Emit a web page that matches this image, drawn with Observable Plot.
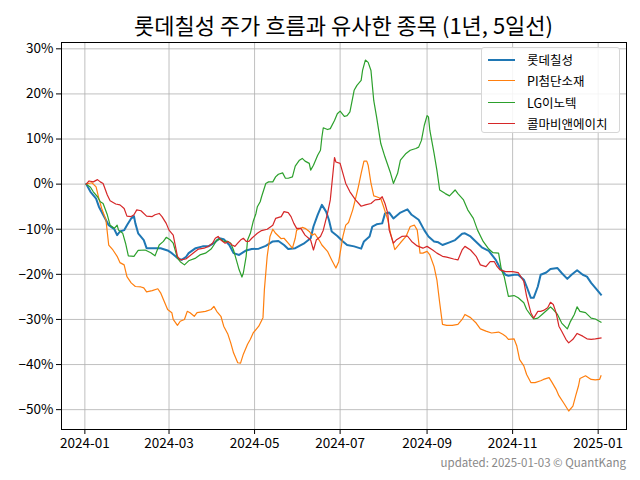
<!DOCTYPE html>
<html><head><meta charset="utf-8">
<script src="https://cdn.jsdelivr.net/npm/d3@7"></script>
<script src="https://cdn.jsdelivr.net/npm/@observablehq/plot@0.6"></script>
<style>
body{margin:0;background:#fff;font-family:"Noto Sans CJK KR","Noto Sans",sans-serif;}
#wrap{position:relative;width:640px;height:480px;overflow:hidden;background:#fff;}
#title{position:absolute;left:41px;top:4px;width:605px;height:40px;line-height:40px;text-align:center;font-size:22px;color:#000;white-space:nowrap;z-index:2;}
#chart{position:absolute;left:0;top:30px;z-index:1;}
#legend{position:absolute;left:481px;top:47px;width:139px;height:86px;box-sizing:border-box;border:1px solid #d6d6d6;border-radius:3px;background:rgba(255,255,255,0.85);z-index:3;}
.item{position:absolute;left:0;height:20px;width:100%;}
.sw{position:absolute;left:6px;top:9px;width:27px;}
.lab{position:absolute;left:45px;top:0;line-height:20px;font-size:12.5px;color:#000;white-space:nowrap;}
#caption{position:absolute;right:14px;top:454px;font-size:11.5px;color:#888;white-space:nowrap;z-index:2;}
</style></head>
<body>
<div id="wrap">
  <div id="title"></div>
  <div id="chart"></div>
  <div id="legend"></div>
  <div id="caption"></div>
</div>
<script>
const titleText = "롯데칠성 주가 흐름과 유사한 종목 (1년, 5일선)";
const captionText = "updated: 2025-01-03 © QuantKang";
const seriesNames = ["롯데칠성", "PI첨단소재", "LG이노텍", "콜마비앤에이치"];
const yTickValues = [-50, -40, -30, -20, -10, 0, 10, 20, 30];
const xTickLabels = ["2024-01", "2024-03", "2024-05", "2024-07", "2024-09", "2024-11", "2025-01"];

// 롯데칠성 (% change, 5-day MA)
const lotte = [
["2024-01-02",0],["2024-01-05",-1.7],["2024-01-09",-3.2],["2024-01-11",-5.0],["2024-01-14",-6.8],
["2024-01-18",-9.1],["2024-01-22",-10.0],["2024-01-24",-11.3],["2024-01-26",-10.5],["2024-01-29",-10.2],
["2024-01-31",-9.1],["2024-02-03",-7.6],["2024-02-05",-7.1],["2024-02-06",-8.7],["2024-02-08",-10.9],
["2024-02-12",-12.4],["2024-02-14",-14.2],["2024-02-17",-14.2],["2024-02-24",-14.2],["2024-02-29",-14.7],
["2024-03-03",-15.3],["2024-03-07",-16.4],["2024-03-10",-16.8],["2024-03-13",-16.2],["2024-03-15",-15.3],
["2024-03-20",-14.2],["2024-03-25",-13.8],["2024-03-29",-13.8],["2024-04-02",-13.1],["2024-04-06",-12.0],
["2024-04-09",-12.2],["2024-04-13",-13.5],["2024-04-16",-15.3],["2024-04-20",-15.7],["2024-04-25",-14.7],
["2024-04-29",-14.4],["2024-05-04",-14.3],["2024-05-09",-13.7],["2024-05-14",-12.7],["2024-05-18",-12.6],
["2024-05-22",-13.5],["2024-05-25",-14.4],["2024-05-30",-14.2],["2024-06-05",-13.2],["2024-06-10",-12.0],
["2024-06-12",-9.4],["2024-06-15",-6.8],["2024-06-18",-4.6],["2024-06-21",-6.1],["2024-06-23",-7.9],
["2024-06-25",-10.5],["2024-06-29",-11.5],["2024-07-03",-12.7],["2024-07-06",-13.5],["2024-07-11",-13.8],
["2024-07-16",-14.3],["2024-07-18",-12.7],["2024-07-22",-11.6],["2024-07-24",-9.4],["2024-07-27",-8.9],
["2024-07-31",-8.7],["2024-08-02",-6.5],["2024-08-05",-6.3],["2024-08-08",-7.6],["2024-08-13",-6.3],
["2024-08-18",-5.6],["2024-08-21",-6.8],["2024-08-26",-7.9],["2024-08-30",-10.2],["2024-09-02",-11.6],
["2024-09-06",-12.7],["2024-09-09",-12.9],["2024-09-12",-13.5],["2024-09-17",-12.9],["2024-09-21",-12.4],
["2024-09-26",-11.0],["2024-09-28",-10.9],["2024-10-02",-11.6],["2024-10-07",-13.1],["2024-10-10",-14.0],
["2024-10-15",-14.8],["2024-10-20",-16.8],["2024-10-23",-18.6],["2024-10-27",-20.1],["2024-10-29",-20.3],
["2024-11-02",-20.1],["2024-11-05",-20.1],["2024-11-09",-21.2],["2024-11-11",-22.7],["2024-11-14",-25.2],
["2024-11-16",-25.2],["2024-11-19",-22.7],["2024-11-21",-20.1],["2024-11-25",-19.6],["2024-11-28",-18.8],
["2024-12-03",-18.6],["2024-12-06",-19.7],["2024-12-10",-21.0],["2024-12-13",-20.1],["2024-12-17",-19.1],
["2024-12-21",-20.1],["2024-12-24",-20.5],["2024-12-27",-21.9],["2024-12-30",-23.0],["2025-01-03",-24.5]
];

// PI첨단소재
const piAdvanced = [
["2024-01-02",0],["2024-01-06",0.3],["2024-01-09",-0.6],["2024-01-11",-3.2],["2024-01-13",-5.4],
["2024-01-16",-7.9],["2024-01-18",-13.5],["2024-01-21",-14.6],["2024-01-24",-16.0],["2024-01-26",-17.4],
["2024-01-29",-17.9],["2024-01-31",-20.5],["2024-02-03",-21.9],["2024-02-06",-22.7],["2024-02-10",-22.8],
["2024-02-12",-23.0],["2024-02-14",-23.9],["2024-02-18",-23.6],["2024-02-22",-23.2],["2024-02-24",-24.1],
["2024-02-26",-25.6],["2024-02-29",-27.8],["2024-03-03",-28.5],["2024-03-04",-30.0],["2024-03-07",-31.3],
["2024-03-09",-30.4],["2024-03-12",-30.0],["2024-03-14",-28.2],["2024-03-16",-28.5],["2024-03-19",-29.3],
["2024-03-21",-28.5],["2024-03-27",-28.2],["2024-03-31",-27.8],["2024-04-02",-27.1],["2024-04-04",-28.2],
["2024-04-07",-29.3],["2024-04-09",-31.5],["2024-04-12",-33.3],["2024-04-14",-35.2],["2024-04-16",-37.4],
["2024-04-19",-39.6],["2024-04-21",-39.7],["2024-04-23",-37.7],["2024-04-26",-35.5],["2024-04-28",-34.4],
["2024-04-30",-33.0],["2024-05-04",-31.5],["2024-05-07",-29.6],["2024-05-08",-23.4],["2024-05-10",-16.0],
["2024-05-12",-11.6],["2024-05-14",-10.0],["2024-05-16",-10.9],["2024-05-20",-12.1],["2024-05-22",-12.0],
["2024-05-25",-13.1],["2024-05-28",-14.2],["2024-05-30",-12.0],["2024-05-31",-10.2],["2024-06-04",-9.6],
["2024-06-06",-9.8],["2024-06-09",-10.5],["2024-06-11",-11.3],["2024-06-13",-11.0],["2024-06-16",-12.4],
["2024-06-18",-13.5],["2024-06-22",-14.9],["2024-06-25",-16.8],["2024-06-28",-18.6],["2024-06-30",-17.2],
["2024-07-01",-15.3],["2024-07-03",-11.6],["2024-07-05",-9.1],["2024-07-07",-8.5],["2024-07-10",-5.7],
["2024-07-12",-3.2],["2024-07-14",-0.6],["2024-07-16",2.4],["2024-07-18",5.1],["2024-07-20",5.1],
["2024-07-21",4.2],["2024-07-23",0.2],["2024-07-25",-2.6],["2024-07-27",-2.8],["2024-07-30",-3.2],
["2024-08-01",-5.0],["2024-08-04",-7.9],["2024-08-06",-10.9],["2024-08-09",-14.5],["2024-08-13",-13.0],
["2024-08-17",-11.6],["2024-08-20",-9.4],["2024-08-23",-9.1],["2024-08-25",-10.2],["2024-08-27",-15.3],
["2024-08-29",-15.3],["2024-09-01",-14.9],["2024-09-03",-15.7],["2024-09-06",-18.3],["2024-09-08",-21.2],
["2024-09-10",-26.3],["2024-09-12",-31.1],["2024-09-15",-31.3],["2024-09-19",-31.3],["2024-09-23",-31.1],
["2024-09-26",-30.0],["2024-09-28",-28.9],["2024-10-02",-29.6],["2024-10-06",-30.8],["2024-10-09",-32.1],
["2024-10-13",-32.6],["2024-10-17",-33.0],["2024-10-22",-32.8],["2024-10-25",-33.3],["2024-10-27",-33.7],
["2024-10-29",-34.4],["2024-11-02",-34.3],["2024-11-04",-35.9],["2024-11-06",-38.9],["2024-11-09",-40.3],
["2024-11-11",-42.2],["2024-11-14",-44.0],["2024-11-17",-44.0],["2024-11-21",-43.6],["2024-11-23",-43.3],
["2024-11-27",-42.9],["2024-11-29",-43.9],["2024-12-02",-45.5],["2024-12-04",-46.9],["2024-12-08",-48.8],
["2024-12-11",-50.3],["2024-12-14",-49.2],["2024-12-16",-46.9],["2024-12-18",-44.7],["2024-12-19",-43.1],
["2024-12-23",-42.5],["2024-12-27",-43.3],["2024-12-30",-43.4],["2025-01-02",-43.3],["2025-01-03",-42.5]
];

// LG이노텍
const lgInnotek = [
["2024-01-02",0],["2024-01-05",-0.7],["2024-01-07",-1.7],["2024-01-10",-2.8],["2024-01-12",-3.9],
["2024-01-14",-4.3],["2024-01-17",-6.8],["2024-01-19",-9.1],["2024-01-22",-9.8],["2024-01-24",-9.1],
["2024-01-25",-10.2],["2024-01-28",-10.9],["2024-01-30",-13.1],["2024-02-01",-15.9],["2024-02-05",-16.0],
["2024-02-08",-14.7],["2024-02-13",-14.6],["2024-02-17",-15.2],["2024-02-20",-15.9],["2024-02-23",-13.5],
["2024-02-26",-12.7],["2024-02-28",-11.8],["2024-03-02",-12.4],["2024-03-04",-13.1],["2024-03-07",-16.4],
["2024-03-09",-17.2],["2024-03-12",-17.9],["2024-03-15",-17.0],["2024-03-20",-16.4],["2024-03-23",-15.7],
["2024-03-27",-15.3],["2024-03-31",-14.4],["2024-04-02",-13.5],["2024-04-04",-12.4],["2024-04-07",-12.2],
["2024-04-09",-12.7],["2024-04-12",-12.7],["2024-04-14",-13.1],["2024-04-16",-14.6],["2024-04-18",-16.8],
["2024-04-20",-19.0],["2024-04-22",-20.6],["2024-04-23",-19.7],["2024-04-25",-16.0],["2024-04-26",-12.4],
["2024-04-28",-10.9],["2024-04-30",-8.3],["2024-05-02",-6.5],["2024-05-03",-5.0],["2024-05-05",-3.9],
["2024-05-06",-2.8],["2024-05-09",0.15],["2024-05-11",0.5],["2024-05-14",0.5],["2024-05-16",1.6],
["2024-05-18",2.2],["2024-05-21",2.5],["2024-05-23",1.3],["2024-05-25",1.3],["2024-05-28",1.6],
["2024-05-30",4.0],["2024-06-02",5.3],["2024-06-04",5.7],["2024-06-06",5.1],["2024-06-09",4.6],
["2024-06-10",3.1],["2024-06-12",4.2],["2024-06-15",6.4],["2024-06-17",7.5],["2024-06-18",10.4],
["2024-06-19",12.5],["2024-06-22",12.1],["2024-06-24",12.3],["2024-06-27",14.1],["2024-06-29",15.6],
["2024-07-01",16.2],["2024-07-04",15.0],["2024-07-06",15.2],["2024-07-08",16.0],["2024-07-11",20.8],
["2024-07-13",21.9],["2024-07-16",23.0],["2024-07-17",25.2],["2024-07-19",27.5],["2024-07-21",27.0],
["2024-07-23",25.2],["2024-07-25",18.5],["2024-07-27",14.9],["2024-07-30",9.0],["2024-08-02",6.0],
["2024-08-06",2.4],["2024-08-08",0.15],["2024-08-11",2.4],["2024-08-13",5.3],["2024-08-17",6.8],
["2024-08-20",7.5],["2024-08-24",7.9],["2024-08-26",8.2],["2024-08-28",9.7],["2024-08-30",13.0],
["2024-09-01",15.2],["2024-09-02",14.9],["2024-09-03",11.9],["2024-09-06",6.8],["2024-09-08",3.1],
["2024-09-10",-1.3],["2024-09-14",-2.1],["2024-09-17",-2.6],["2024-09-21",-1.3],["2024-09-23",-2.1],
["2024-09-27",-3.5],["2024-09-30",-5.7],["2024-10-04",-7.6],["2024-10-07",-10.2],["2024-10-11",-12.7],
["2024-10-15",-14.4],["2024-10-18",-15.2],["2024-10-22",-15.3],["2024-10-24",-19.0],["2024-10-26",-20.5],
["2024-10-29",-24.9],["2024-11-02",-24.7],["2024-11-05",-25.2],["2024-11-09",-26.3],["2024-11-11",-27.8],
["2024-11-14",-29.1],["2024-11-16",-29.9],["2024-11-19",-29.7],["2024-11-22",-28.9],["2024-11-26",-27.8],
["2024-11-28",-27.2],["2024-11-30",-27.8],["2024-12-03",-28.9],["2024-12-06",-30.8],["2024-12-10",-32.1],
["2024-12-12",-30.6],["2024-12-15",-28.9],["2024-12-17",-27.2],["2024-12-19",-28.2],["2024-12-23",-28.5],
["2024-12-27",-29.7],["2024-12-30",-29.9],["2025-01-03",-30.6]
];

// 콜마비앤에이치
const kolmarBnh = [
["2024-01-02",0],["2024-01-04",0.7],["2024-01-07",0.5],["2024-01-10",1.0],["2024-01-12",0.5],
["2024-01-14",0.15],["2024-01-17",-2.4],["2024-01-19",-3.7],["2024-01-23",-4.4],["2024-01-26",-4.6],
["2024-01-29",-5.4],["2024-01-31",-7.1],["2024-02-03",-7.2],["2024-02-05",-6.8],["2024-02-07",-5.7],
["2024-02-10",-5.9],["2024-02-14",-7.1],["2024-02-18",-7.2],["2024-02-20",-6.8],["2024-02-23",-6.5],
["2024-02-25",-7.2],["2024-02-28",-8.7],["2024-03-01",-10.2],["2024-03-04",-11.3],["2024-03-07",-16.0],
["2024-03-09",-16.8],["2024-03-13",-16.6],["2024-03-19",-15.1],["2024-03-22",-14.4],["2024-03-26",-14.2],
["2024-03-29",-13.8],["2024-04-01",-13.1],["2024-04-03",-12.0],["2024-04-05",-11.6],["2024-04-07",-12.4],
["2024-04-10",-13.1],["2024-04-12",-12.7],["2024-04-15",-13.5],["2024-04-17",-13.8],["2024-04-19",-13.1],
["2024-04-21",-12.4],["2024-04-23",-12.0],["2024-04-25",-12.7],["2024-04-27",-12.7],["2024-04-29",-12.0],
["2024-05-03",-10.9],["2024-05-06",-10.3],["2024-05-10",-10.0],["2024-05-14",-9.1],["2024-05-16",-7.6],
["2024-05-20",-7.2],["2024-05-22",-6.1],["2024-05-25",-6.3],["2024-05-27",-7.2],["2024-05-29",-8.7],
["2024-05-31",-9.8],["2024-06-03",-9.8],["2024-06-06",-11.3],["2024-06-10",-12.4],["2024-06-12",-14.6],
["2024-06-14",-12.4],["2024-06-17",-11.6],["2024-06-19",-10.2],["2024-06-22",-6.5],["2024-06-24",-3.5],
["2024-06-27",5.9],["2024-06-28",4.9],["2024-07-01",4.6],["2024-07-03",2.4],["2024-07-05",0.15],
["2024-07-08",-1.7],["2024-07-12",-3.5],["2024-07-16",-4.9],["2024-07-19",-4.6],["2024-07-23",-4.3],
["2024-07-26",-3.5],["2024-07-29",-3.4],["2024-07-31",-2.8],["2024-08-02",-4.3],["2024-08-04",-6.5],
["2024-08-05",-10.2],["2024-08-08",-13.1],["2024-08-10",-12.4],["2024-08-14",-11.6],["2024-08-18",-11.5],
["2024-08-21",-12.7],["2024-08-25",-13.7],["2024-08-29",-14.2],["2024-09-01",-13.8],["2024-09-05",-14.6],
["2024-09-08",-15.3],["2024-09-12",-16.0],["2024-09-15",-16.2],["2024-09-20",-16.6],["2024-09-23",-16.8],
["2024-09-26",-14.6],["2024-09-28",-13.8],["2024-10-02",-14.6],["2024-10-06",-16.0],["2024-10-09",-17.9],
["2024-10-13",-18.3],["2024-10-16",-17.2],["2024-10-19",-17.2],["2024-10-21",-18.3],["2024-10-23",-19.0],
["2024-10-27",-19.4],["2024-11-01",-19.4],["2024-11-05",-19.6],["2024-11-06",-20.1],["2024-11-09",-21.6],
["2024-11-11",-24.9],["2024-11-14",-28.5],["2024-11-16",-29.7],["2024-11-19",-28.2],["2024-11-21",-28.2],
["2024-11-23",-28.0],["2024-11-26",-27.4],["2024-11-28",-26.2],["2024-11-30",-26.7],["2024-12-02",-28.5],
["2024-12-04",-31.5],["2024-12-06",-32.6],["2024-12-09",-34.4],["2024-12-11",-35.2],["2024-12-14",-34.4],
["2024-12-17",-33.1],["2024-12-21",-33.7],["2024-12-24",-34.3],["2024-12-27",-34.4],["2024-12-30",-34.3],
["2025-01-03",-34.1]
];

const seriesColors = ["#1f77b4", "#ff7f0e", "#2ca02c", "#d62728"];
const seriesWidths = [2, 1.2, 1.2, 1.2];

const parse = d3.utcParse("%Y-%m-%d");
const parseMonth = d3.utcParse("%Y-%m");
const allSeries = [lotte, piAdvanced, lgInnotek, kolmarBnh];
const tables = allSeries.map((s, i) => s.map(([d, v]) => ({date: parse(d), value: v, name: seriesNames[i]})));
const xTicks = xTickLabels.map(parseMonth);

const fmtY = d => (d < 0 ? "\u2212" : "") + Math.abs(d) + "%";

const gridStyle = {stroke: "#b0b0b0", strokeOpacity: 1, strokeWidth: 0.8};

const chart = Plot.plot({
  width: 640,
  height: 424,
  marginTop: 12,
  marginBottom: 25,
  marginLeft: 61,
  marginRight: 14,
  style: {fontFamily: '"Noto Sans CJK KR","Noto Sans",sans-serif', fontSize: "13px", color: "#000", background: "transparent"},
  x: {type: "utc", domain: [new Date(Date.UTC(2023, 11, 15, 8)), new Date(Date.UTC(2025, 0, 21, 5))], label: null},
  y: {domain: [-54.4, 31.4], label: null},
  marks: [
    Plot.gridX(xTicks, gridStyle),
    Plot.gridY(yTickValues, gridStyle),
    ...tables.map((t, i) => Plot.line(t, {x: "date", y: "value", stroke: seriesColors[i], strokeWidth: seriesWidths[i], strokeLinejoin: "round", strokeLinecap: "square"})),
    Plot.frame({stroke: "#000", strokeWidth: 1}),
    Plot.axisX(xTicks, {tickFormat: d3.utcFormat("%Y-%m"), tickSize: 5, tickPadding: 4, label: null, fontSize: 13.5}),
    Plot.axisY(yTickValues, {tickFormat: fmtY, tickSize: 5, tickPadding: 3, label: null, fontSize: 13.5})
  ]
});
document.getElementById("chart").appendChild(chart);

document.getElementById("title").textContent = titleText;
document.getElementById("caption").textContent = captionText;

const legend = document.getElementById("legend");
seriesNames.forEach((n, i) => {
  const item = document.createElement("div");
  item.className = "item";
  item.style.top = (2 + i * 21.3) + "px";
  const sw = document.createElement("div");
  sw.className = "sw";
  sw.style.borderTop = seriesWidths[i] + "px solid " + seriesColors[i];
  const lab = document.createElement("div");
  lab.className = "lab";
  lab.textContent = n;
  item.appendChild(sw); item.appendChild(lab);
  legend.appendChild(item);
});
</script>
</body></html>
